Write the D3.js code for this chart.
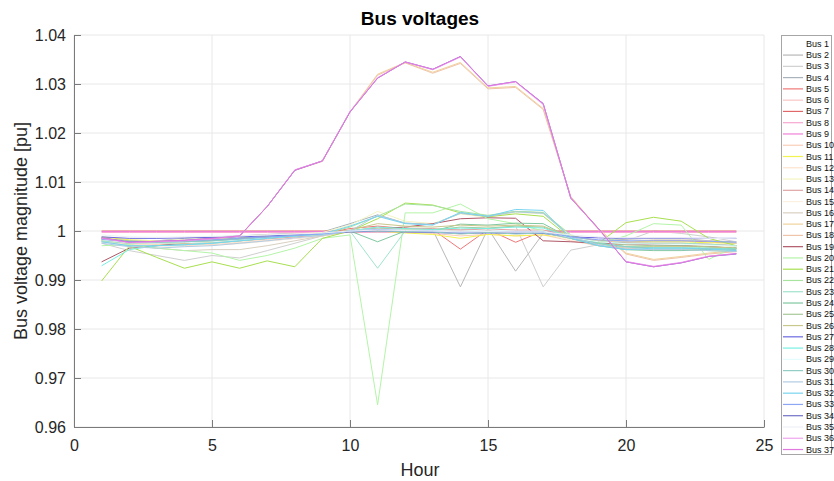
<!DOCTYPE html>
<html>
<head>
<meta charset="utf-8">
<script src="https://cdn.jsdelivr.net/npm/d3@7"></script>
<style>
  body { margin: 0; background: #fff; }
  svg { display: block; font-family: "Liberation Sans", Arial, sans-serif; }
</style>
</head>
<body>
<div id="chart"></div>
<script>
// hours on the x axis
const hours = [1,2,3,4,5,6,7,8,9,10,11,12,13,14,15,16,17,18,19,20,21,22,23,24];
const xTicks = [0, 5, 10, 15, 20, 25];
const yTicks = [0.96, 0.97, 0.98, 0.99, 1.0, 1.01, 1.02, 1.03, 1.04];

// bus voltage magnitudes [pu], one array per bus
const v1  = [1,1,1,1,1,1,1,1,1,1,1,1,1,1,1,1,1,1,1,1,1,1,1,1];
const v2  = [0.9985,0.9975,0.9978,0.998,0.9982,0.9985,0.9988,0.999,0.9993,0.9998,1.0,1.0,1.0002,0.9886,1.0005,0.9918,0.9995,0.9985,0.998,0.9983,0.9985,0.9985,0.998,0.9978];
const v3  = [0.9975,0.996,0.995,0.994,0.995,0.9945,0.996,0.9975,0.999,1.0,0.9998,1.0,1.0,1.0003,1.0005,1.001,0.9886,0.9961,0.9972,0.998,1.0,0.9995,0.9988,0.9978];
const v4  = [0.9985,0.998,0.998,0.9985,0.9988,0.999,0.9993,0.9995,0.9998,1.0015,1.0033,1.0016,1.0014,1.0036,1.003,1.004,1.0037,0.999,0.9975,0.9965,0.9968,0.997,0.9968,0.9965];
const v5  = [0.9985,0.998,0.9975,0.9972,0.9975,0.998,0.9985,0.999,0.9995,1.0005,1.001,1.0005,1.0003,0.9963,1.0003,0.9977,1.0,0.999,0.998,0.9978,0.998,0.998,0.9978,0.9975];
const v6  = [0.9978,0.9972,0.997,0.997,0.9972,0.9975,0.998,0.9985,0.999,1.0,1.0003,1.0002,1.0,0.9995,0.9998,0.9995,0.9997,0.9985,0.9978,0.9975,0.9975,0.9975,0.9973,0.997];
const v7  = [1,1,1,1,1,1,1,1,1,1,1,1,1,1,1,1,1,1,1,1,1,1,1,1];
const v8  = [0.9997,0.9997,0.9997,0.9997,0.9997,0.9997,0.9997,0.9997,0.9997,0.9997,0.9997,0.9997,0.9997,0.9997,0.9997,0.9997,0.9997,0.9997,0.9997,0.9997,0.9997,0.9997,0.9997,0.9997];
const v9  = [0.9999,0.9999,0.9999,0.9999,0.9999,0.9999,0.9999,0.9999,0.9999,0.9999,0.9999,0.9999,0.9999,0.9999,0.9999,0.9999,0.9999,0.9999,0.9999,0.9999,0.9999,0.9999,0.9999,0.9999];
const v10 = [0.998,0.9975,0.9972,0.997,0.9972,0.9975,0.998,0.9985,0.999,0.9998,1.0,0.9998,0.9995,0.999,0.9993,0.999,0.9992,0.998,0.997,0.9965,0.9962,0.9962,0.9962,0.996];
const v11 = [0.9988,0.9982,0.998,0.998,0.9982,0.9985,0.9988,0.999,0.9993,0.9998,1.0,0.9996,0.9993,0.9985,0.9993,0.999,0.9992,0.9985,0.998,0.9978,0.9978,0.9978,0.9976,0.9975];
const v12 = [0.9981,0.9974,0.9972,0.9972,0.9974,0.9977,0.9982,0.9987,0.9991,1.0,1.0004,1.0002,1.0,0.9994,0.9998,0.9994,0.9996,0.9984,0.9976,0.9972,0.9971,0.9971,0.997,0.9968];
const v13 = [0.9985,0.998,0.998,0.9983,0.9986,0.999,0.9992,0.9994,0.9997,1.0012,1.004,1.002,1.0015,1.0035,1.0028,1.0038,1.0035,0.999,0.9978,0.997,0.997,0.997,0.9968,0.9966];
const v14 = [0.9983,0.9978,0.9976,0.9976,0.9978,0.998,0.9984,0.9988,0.9992,1.0,1.0008,1.0006,1.0005,1.0002,1.0004,1.0002,1.0002,0.9988,0.998,0.9976,0.9975,0.9975,0.9973,0.997];
const v15 = [0.9979,0.9971,0.9969,0.9969,0.9971,0.9974,0.9979,0.9985,0.999,1.0,1.0006,1.0003,1.0001,0.9993,0.9998,0.9993,0.9995,0.9982,0.9974,0.997,0.9969,0.9969,0.9968,0.9966];
const v16 = [0.9978,0.997,0.9965,0.996,0.9962,0.9962,0.997,0.998,0.999,1.0,0.9998,1.0,0.9999,0.9995,0.9998,0.9995,0.9997,0.9985,0.998,0.9978,0.9982,0.9982,0.998,0.9975];
const v17 = [0.9985,0.9976,0.9978,0.998,0.9984,0.999,1.005,1.0124,1.0143,1.0243,1.032,1.0344,1.0324,1.0344,1.0292,1.0295,1.025,1.007,1.0005,0.9955,0.9942,0.9948,0.9955,0.996];
const v18 = [0.9983,0.9975,0.9977,0.998,0.9983,0.9989,1.005,1.0124,1.0142,1.0243,1.0318,1.0343,1.0322,1.0342,1.029,1.0293,1.0248,1.007,1.0003,0.9953,0.994,0.9946,0.9953,0.9958];
const v19 = [0.9937,0.9965,0.997,0.9975,0.998,0.9985,0.9988,0.999,0.9995,1.0,1.0005,1.0008,1.0015,1.0025,1.0027,1.0026,0.998,0.9978,0.9975,0.9973,0.9972,0.997,0.9968,0.9965];
const v20 = [0.997,0.9972,0.9965,0.996,0.9955,0.994,0.995,0.9965,0.9985,0.9992,0.9645,1.0037,1.0037,1.0055,1.0025,1.0015,1.0,0.9985,0.9975,0.999,1.0015,1.0012,0.9942,0.997];
const v21 = [0.9898,0.9969,0.9946,0.9924,0.9937,0.9924,0.9939,0.9927,0.9985,1.0,1.0025,1.0057,1.0053,1.0037,1.0029,1.0035,1.003,0.9985,0.9975,1.0017,1.0028,1.002,0.9985,0.997];
const v22 = [0.998,0.9975,0.9975,0.9978,0.998,0.9983,0.9986,0.999,0.9993,1.0008,1.003,1.0055,1.0052,1.004,1.0032,1.004,1.0038,0.9992,0.9975,0.9962,0.9962,0.9962,0.996,0.9958];
const v23 = [0.998,0.9975,0.9975,0.9978,0.998,0.9983,0.9986,0.999,0.9993,1.0,0.9924,1.0,1.0,0.9998,1.0,0.9998,0.9998,0.9985,0.9978,0.9975,0.9975,0.9975,0.9973,0.997];
const v24 = [0.9982,0.9978,0.9977,0.9978,0.998,0.9983,0.9986,0.999,0.9993,1.0,0.9978,1.0,1.0,1.0014,1.0012,1.0016,1.0015,0.9985,0.997,0.9962,0.996,0.996,0.9962,0.9965];
const v25 = [0.9985,0.998,0.9978,0.998,0.9982,0.9985,0.9988,0.999,0.9994,1.0,1.0005,1.0003,1.0002,1.0008,1.0006,1.001,1.0008,0.9988,0.9978,0.9972,0.997,0.997,0.9968,0.9965];
const v26 = [0.9982,0.9976,0.9974,0.9975,0.9977,0.998,0.9985,0.999,0.9993,1.0002,1.0015,1.001,1.0008,1.0012,1.001,1.0012,1.001,0.9988,0.9975,0.9968,0.9968,0.9968,0.9967,0.9965];
const v27 = [0.9988,0.9985,0.9985,0.9986,0.9987,0.9988,0.999,0.9992,0.9994,0.9998,1.0,0.9998,0.9997,0.9995,0.9996,0.9995,0.9995,0.9988,0.9986,0.9985,0.9985,0.9985,0.9985,0.9985];
const v28 = [0.9929,0.9962,0.997,0.9972,0.9975,0.998,0.9985,0.999,0.9994,1.0,1.0008,1.0005,1.0003,1.0006,1.0005,1.0008,1.0006,0.9988,0.9975,0.9968,0.9966,0.9966,0.9965,0.9963];
const v29 = [0.9982,0.9976,0.9975,0.9976,0.9978,0.9982,0.9986,0.999,0.9993,1.0,1.0004,1.0002,1.0001,1.0,1.0002,1.0,1.0,0.9986,0.9978,0.9974,0.9973,0.9973,0.9971,0.9969];
const v30 = [0.9984,0.9978,0.9977,0.9978,0.998,0.9983,0.9987,0.999,0.9994,1.0,1.0,0.9999,0.9998,0.9994,0.9997,0.9994,0.9996,0.9985,0.9975,0.9968,0.9965,0.9965,0.9964,0.9962];
const v31 = [0.9975,0.9968,0.9965,0.9968,0.997,0.9975,0.998,0.9986,0.9991,1.0,1.0032,1.0016,1.0013,1.0036,1.003,1.0039,1.0036,0.9988,0.9972,0.9963,0.9962,0.9962,0.996,0.9958];
const v32 = [0.9978,0.997,0.997,0.9972,0.9975,0.998,0.9985,0.999,0.9994,1.001,1.003,1.0015,1.0012,1.0038,1.003,1.0044,1.0042,0.9985,0.997,0.9962,0.9965,0.9965,0.9963,0.996];
const v33 = [0.9983,0.9978,0.9978,0.998,0.9982,0.9985,0.9988,0.9991,0.9994,1.0,1.0003,1.0001,1.0,0.9997,0.9999,0.9998,0.9998,0.9988,0.9982,0.998,0.998,0.998,0.9979,0.9977];
const v34 = [0.9986,0.9977,0.9979,0.9981,0.9985,0.999,1.005,1.0124,1.0143,1.0243,1.0312,1.0345,1.033,1.0356,1.0296,1.0305,1.026,1.0067,1.0005,0.9937,0.9927,0.9935,0.9948,0.9953];
const v35 = [0.9992,0.9988,0.9987,0.9988,0.9989,0.999,0.9992,0.9994,0.9996,1.0,1.0002,1.0001,1.0,0.9998,0.9999,0.9998,0.9998,0.9992,0.9988,0.9986,0.9986,0.9986,0.9985,0.9984];
const v36 = [0.9985,0.9976,0.9978,0.998,0.9984,0.999,1.005,1.0125,1.0143,1.0244,1.0313,1.0345,1.0329,1.0355,1.0295,1.0304,1.0258,1.0067,1.0004,0.9938,0.9928,0.9936,0.9949,0.9954];
const v37 = [0.9986,0.9977,0.9979,0.9981,0.9985,0.999,1.005,1.0124,1.0143,1.0243,1.0312,1.0345,1.033,1.0356,1.0296,1.0305,1.026,1.0067,1.0005,0.9937,0.9927,0.9935,0.9948,0.9954];

const busValues = [v1,v2,v3,v4,v5,v6,v7,v8,v9,v10,v11,v12,v13,v14,v15,v16,v17,v18,v19,v20,
                   v21,v22,v23,v24,v25,v26,v27,v28,v29,v30,v31,v32,v33,v34,v35,v36,v37];
const busNames = busValues.map((d, i) => "Bus " + (i + 1));
const busColors = [
  "#ffffff","#b8b8b8","#cfcfcf","#a8b4bc","#f07878","#f8c4c4","#e06868","#f8a8d0","#f080d8","#f8cdb8",
  "#f2f250","#fce4cc","#f4f4c4","#e0a4a4","#fcf0e0","#d8d0c0","#f0d49c","#f0c4a8","#b05868","#b4f4a8",
  "#a8e050","#a8e4a0","#a0e4cc","#80c8a0","#a8c898","#c8c88c","#6a6ae0","#78f0e0","#e4fcfc","#90ccc4",
  "#b0cce4","#78d4f0","#8ca8f4","#7070c8","#eef0f6","#f0a4f0","#e078e0"
];

const W = 834, H = 481;
const margin = {top: 35, right: 70, bottom: 54, left: 74};

const svg = d3.select("#chart").append("svg")
    .attr("width", W)
    .attr("height", H);

const x = d3.scaleLinear().domain([0, 25]).range([margin.left, 764]);
const y = d3.scaleLinear().domain([0.96, 1.04]).range([H - margin.bottom, margin.top]);

// grid
svg.append("g")
    .selectAll("line.gx")
    .data(xTicks)
    .enter().append("line")
    .attr("x1", d => x(d)).attr("x2", d => x(d))
    .attr("y1", y(0.96)).attr("y2", y(1.04))
    .attr("stroke", "#e8e8e8");
svg.append("g")
    .selectAll("line.gy")
    .data(yTicks)
    .enter().append("line")
    .attr("x1", x(0)).attr("x2", x(25))
    .attr("y1", d => y(d)).attr("y2", d => y(d))
    .attr("stroke", "#e8e8e8");

// lines
const line = d3.line()
    .x((d, i) => x(hours[i]))
    .y(d => y(d));

svg.append("g")
    .selectAll("path")
    .data(busValues)
    .enter().append("path")
    .attr("d", line)
    .attr("fill", "none")
    .attr("stroke", (d, i) => busColors[i])
    .attr("stroke-width", 1);

// axes
const xAxis = svg.append("g")
    .attr("transform", `translate(0,${y(0.96)})`)
    .call(d3.axisBottom(x).tickValues(xTicks).tickSize(-7).tickSizeOuter(0).tickPadding(13));
const yAxis = svg.append("g")
    .attr("transform", `translate(${x(0)},0)`)
    .call(d3.axisLeft(y).tickValues(yTicks).tickSize(-7).tickSizeOuter(0).tickPadding(8)
        .tickFormat(d => d3.format("")(+d.toFixed(2))));

[xAxis, yAxis].forEach(a => {
    a.select(".domain").attr("stroke", "#7a7a7a");
    a.selectAll(".tick line").attr("stroke", "#7a7a7a");
    a.selectAll(".tick text")
        .attr("fill", "#262626")
        .style("font-size", "16px")
        .style("font-family", "'Liberation Sans', Arial, sans-serif");
});

// labels
svg.append("text")
    .attr("x", 420).attr("y", 25)
    .attr("text-anchor", "middle")
    .style("font-size", "19px")
    .style("font-weight", "bold")
    .text("Bus voltages");

svg.append("text")
    .attr("x", 420).attr("y", 476)
    .attr("text-anchor", "middle")
    .attr("fill", "#262626")
    .style("font-size", "18px")
    .text("Hour");

svg.append("text")
    .attr("transform", `translate(27,${(y(0.96) + y(1.04)) / 2}) rotate(-90)`)
    .attr("text-anchor", "middle")
    .attr("fill", "#262626")
    .style("font-size", "18px")
    .text("Bus voltage magnitude [pu]");

// legend
const lg = svg.append("g");
lg.append("rect")
    .attr("x", 781.5).attr("y", 35.5)
    .attr("width", 50).attr("height", 419)
    .attr("fill", "#fff")
    .attr("stroke", "#a6a6a6");

const row = lg.selectAll("g.row")
    .data(busNames)
    .enter().append("g")
    .attr("transform", (d, i) => `translate(0,${43.8 + i * 11.27})`);
row.append("line")
    .attr("x1", 783).attr("x2", 803)
    .attr("stroke", (d, i) => busColors[i])
    .attr("stroke-width", 1.2);
row.append("text")
    .attr("x", 806).attr("y", 3)
    .attr("fill", "#111")
    .style("font-size", "9px")
    .text(d => d);
</script>
</body>
</html>
